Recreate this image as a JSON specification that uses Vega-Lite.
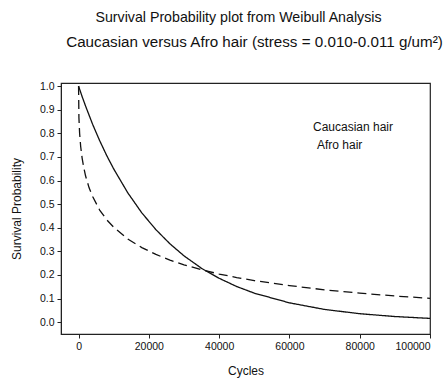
{
  "$schema": "https://vega.github.io/schema/vega-lite/v6.json",
  "autosize": {"type": "pad"},
  "padding": {"left": 9, "top": 11, "right": 0, "bottom": 0},
  "background": "white",
  "config": {
    "font": "Liberation Sans",
    "view": {"stroke": "#222", "strokeWidth": 1.2},
    "axis": {"grid": false, "domainColor": "#222", "tickColor": "#222", "labelColor": "#111", "titleColor": "#111", "labelFont": "Liberation Sans", "titleFont": "Liberation Sans", "titleFontWeight": "normal", "labelFontSize": 10.5, "titleFontSize": 12, "tickSize": 4, "labelPadding": 3, "labelOverlap": false},
    "title": {"font": "Liberation Sans", "fontSize": 14.2, "fontWeight": "normal", "color": "#111", "anchor": "middle", "frame": "group"}
  },
  "title": {
    "text": "Survival Probability plot from Weibull Analysis",
    "dx": -7,
    "offset": 9
  },
  "datasets": {
    "curves": [
      {"cycles": 0, "survival": 1.0, "group": "Caucasian hair"},
      {"cycles": 1000, "survival": 0.956, "group": "Caucasian hair"},
      {"cycles": 2000, "survival": 0.915, "group": "Caucasian hair"},
      {"cycles": 4000, "survival": 0.838, "group": "Caucasian hair"},
      {"cycles": 6000, "survival": 0.769, "group": "Caucasian hair"},
      {"cycles": 8000, "survival": 0.706, "group": "Caucasian hair"},
      {"cycles": 10000, "survival": 0.649, "group": "Caucasian hair"},
      {"cycles": 14000, "survival": 0.548, "group": "Caucasian hair"},
      {"cycles": 18000, "survival": 0.463, "group": "Caucasian hair"},
      {"cycles": 22000, "survival": 0.392, "group": "Caucasian hair"},
      {"cycles": 26000, "survival": 0.332, "group": "Caucasian hair"},
      {"cycles": 30000, "survival": 0.281, "group": "Caucasian hair"},
      {"cycles": 35000, "survival": 0.228, "group": "Caucasian hair"},
      {"cycles": 40000, "survival": 0.186, "group": "Caucasian hair"},
      {"cycles": 45000, "survival": 0.151, "group": "Caucasian hair"},
      {"cycles": 50000, "survival": 0.123, "group": "Caucasian hair"},
      {"cycles": 60000, "survival": 0.082, "group": "Caucasian hair"},
      {"cycles": 70000, "survival": 0.054, "group": "Caucasian hair"},
      {"cycles": 80000, "survival": 0.036, "group": "Caucasian hair"},
      {"cycles": 90000, "survival": 0.024, "group": "Caucasian hair"},
      {"cycles": 100000, "survival": 0.016, "group": "Caucasian hair"},
      {"cycles": 0, "survival": 1.0, "group": "Afro hair"},
      {"cycles": 100, "survival": 0.866, "group": "Afro hair"},
      {"cycles": 300, "survival": 0.799, "group": "Afro hair"},
      {"cycles": 600, "survival": 0.744, "group": "Afro hair"},
      {"cycles": 1000, "survival": 0.696, "group": "Afro hair"},
      {"cycles": 1500, "survival": 0.653, "group": "Afro hair"},
      {"cycles": 2000, "survival": 0.619, "group": "Afro hair"},
      {"cycles": 3000, "survival": 0.569, "group": "Afro hair"},
      {"cycles": 4000, "survival": 0.532, "group": "Afro hair"},
      {"cycles": 6000, "survival": 0.475, "group": "Afro hair"},
      {"cycles": 8000, "survival": 0.434, "group": "Afro hair"},
      {"cycles": 10000, "survival": 0.402, "group": "Afro hair"},
      {"cycles": 14000, "survival": 0.352, "group": "Afro hair"},
      {"cycles": 18000, "survival": 0.316, "group": "Afro hair"},
      {"cycles": 22000, "survival": 0.287, "group": "Afro hair"},
      {"cycles": 26000, "survival": 0.263, "group": "Afro hair"},
      {"cycles": 30000, "survival": 0.243, "group": "Afro hair"},
      {"cycles": 35000, "survival": 0.222, "group": "Afro hair"},
      {"cycles": 40000, "survival": 0.204, "group": "Afro hair"},
      {"cycles": 45000, "survival": 0.189, "group": "Afro hair"},
      {"cycles": 50000, "survival": 0.176, "group": "Afro hair"},
      {"cycles": 60000, "survival": 0.155, "group": "Afro hair"},
      {"cycles": 70000, "survival": 0.137, "group": "Afro hair"},
      {"cycles": 80000, "survival": 0.123, "group": "Afro hair"},
      {"cycles": 90000, "survival": 0.111, "group": "Afro hair"},
      {"cycles": 100000, "survival": 0.101, "group": "Afro hair"}
    ]
  },
  "vconcat": [
    {
      "width": 369,
      "height": 251,
      "title": {"text": "Caucasian versus Afro hair (stress = 0.010-0.011 g/um²)", "fontSize": 15.2, "dx": 9, "offset": 31},
      "layer": [
        {
          "data": {"name": "curves"},
          "mark": {"type": "line", "color": "#111", "strokeWidth": 1.3, "clip": true},
          "encoding": {
            "x": {"field": "cycles", "type": "quantitative", "scale": {"domain": [-5000, 100000], "nice": false, "zero": false},
                  "axis": {"values": [0, 20000, 40000, 60000, 80000, 100000], "format": "d", "title": "Cycles", "titlePadding": 14}},
            "y": {"field": "survival", "type": "quantitative", "scale": {"domain": [-0.05, 1.013], "nice": false, "zero": false},
                  "axis": {"values": [0, 0.1, 0.2, 0.3, 0.4, 0.5, 0.6, 0.7, 0.8, 0.9, 1.0], "format": ".1f", "labelOverlap": false, "title": "Survival Probability", "titlePadding": 16}},
            "strokeDash": {"field": "group", "type": "nominal", "scale": {"domain": ["Caucasian hair", "Afro hair"], "range": [[1, 0], [9, 5]]}, "legend": null},
            "order": {"field": "cycles", "type": "quantitative"}
          }
        },
        {
          "data": {"values": [{}]},
          "mark": {"type": "text", "align": "left", "baseline": "middle", "fontSize": 12, "font": "Liberation Sans", "color": "#111"},
          "encoding": {
            "x": {"datum": 66700, "type": "quantitative", "axis": {"values": [0, 20000, 40000, 60000, 80000, 100000], "format": "d", "title": "Cycles", "titlePadding": 14}},
            "y": {"datum": 0.826, "type": "quantitative", "axis": {"values": [0, 0.1, 0.2, 0.3, 0.4, 0.5, 0.6, 0.7, 0.8, 0.9, 1.0], "format": ".1f", "labelOverlap": false, "title": "Survival Probability", "titlePadding": 16}},
            "text": {"value": "Caucasian hair"}
          }
        },
        {
          "data": {"values": [{}]},
          "mark": {"type": "text", "align": "left", "baseline": "middle", "fontSize": 12, "font": "Liberation Sans", "color": "#111"},
          "encoding": {
            "x": {"datum": 67850, "type": "quantitative", "axis": {"values": [0, 20000, 40000, 60000, 80000, 100000], "format": "d", "title": "Cycles", "titlePadding": 14}},
            "y": {"datum": 0.75, "type": "quantitative", "axis": {"values": [0, 0.1, 0.2, 0.3, 0.4, 0.5, 0.6, 0.7, 0.8, 0.9, 1.0], "format": ".1f", "labelOverlap": false, "title": "Survival Probability", "titlePadding": 16}},
            "text": {"value": "Afro hair"}
          }
        }
      ]
    }
  ]
}
